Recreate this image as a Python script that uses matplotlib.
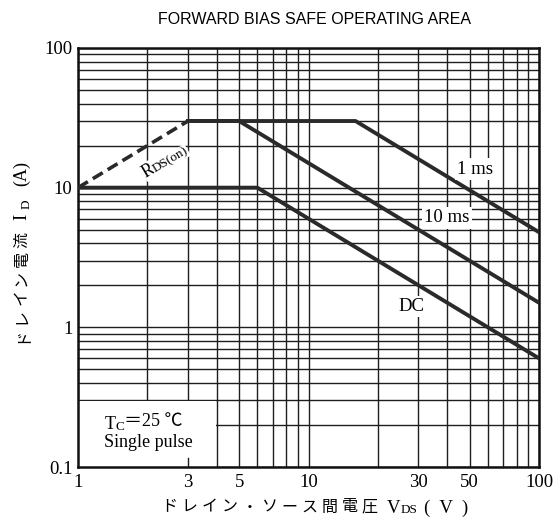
import matplotlib
matplotlib.use('Agg')
import matplotlib.pyplot as plt
from matplotlib.patches import Rectangle
from matplotlib.ticker import NullFormatter, LogLocator

# ---------------- data ----------------
title = "FORWARD BIAS SAFE OPERATING AREA"
x_ticks = [1, 3, 5, 10, 30, 50, 100]
x_ticklabels = ["1", "3", "5", "10", "30", "50", "100"]
y_ticks = [0.1, 1, 10, 100]
y_ticklabels = ["0.1", "1", "10", "100"]

rds_v = [1, 3]
rds_i = [10, 30]
ms1_v = [3, 16, 100]
ms1_i = [30, 30, 4.8]
ms10_v = [3, 5, 100]
ms10_i = [30, 30, 1.5]
dc_v = [1, 6, 100]
dc_i = [10, 10, 0.6]

curve_labels = ["1 ms", "10 ms", "DC"]
xlabel_jp = "ドレイン・ソース間電圧"
ylabel_jp = "ドレイン電流"

W, H = 560, 526
SERIF = ['Liberation Serif', 'Noto Sans CJK JP', 'DejaVu Sans']
CJK = ['Noto Sans CJK JP', 'DejaVu Sans']

fig = plt.figure(figsize=(W / 100, H / 100), dpi=100)
fig.patch.set_facecolor('white')
L, R, T, B = 78, 539, 48, 467
ax = fig.add_axes([L / W, 1 - B / H, (R - L) / W, (B - T) / H])
ax.set_xscale('log')
ax.set_yscale('log')
ax.set_xlim(1, 100)
ax.set_ylim(0.1, 100)

ax.set_axisbelow(True)
ax.xaxis.set_minor_locator(LogLocator(base=10, subs=range(2, 10)))
ax.yaxis.set_minor_locator(LogLocator(base=10, subs=range(2, 10)))
ax.grid(which='both', color='#1e1e1e', lw=1.0)
ax.set_xticks(x_ticks)
ax.set_xticklabels(x_ticklabels)
ax.set_yticks(y_ticks)
ax.set_yticklabels(y_ticklabels)
ax.xaxis.set_minor_formatter(NullFormatter())
ax.yaxis.set_minor_formatter(NullFormatter())
ax.tick_params(which='both', length=0)
ax.tick_params(axis='x', pad=5)
ax.tick_params(axis='y', pad=4)
for lab in ax.get_xticklabels() + ax.get_yticklabels():
    lab.set_fontfamily(SERIF)
    lab.set_fontsize(13.5)
for sp in ax.spines.values():
    sp.set_linewidth(1.8)
    sp.set_color('#111111')

# white box behind conditions text
ax.add_patch(Rectangle((1, 0.1), 2.95, 0.195, facecolor='white',
                       edgecolor='none', zorder=1))
ax.plot([3, 3], [0.1, 0.116], color='#1e1e1e', lw=1.0, zorder=1.5)

lc = '#2a2a2a'
ax.plot(rds_v, rds_i, color=lc, lw=2.6, ls=(0, (3.2, 1.6)), zorder=3,
        solid_capstyle='butt')
ax.plot(ms1_v, ms1_i, color=lc, lw=2.8, zorder=3)
ax.plot(ms10_v, ms10_i, color=lc, lw=2.8, zorder=3)
ax.plot(dc_v, dc_i, color=lc, lw=2.8, zorder=3)

bb = dict(facecolor='white', edgecolor='none', pad=1.5)
ax.text(52.8, 13.6, curve_labels[0], fontsize=13.5, family=SERIF,
        ha='center', va='center', bbox=bb, zorder=4)
ax.text(39.9, 6.07, curve_labels[1], fontsize=13.5, family=SERIF,
        ha='center', va='center', bbox=bb, zorder=4)
ax.text(27.9, 1.4, curve_labels[2], fontsize=13.5, family=SERIF,
        ha='center', va='center', bbox=bb, zorder=4)

# R_DS(on) label
ax.text(1.97, 11.8, "R", fontsize=13, family=SERIF, rotation=31,
        rotation_mode='anchor', ha='left', va='baseline', zorder=4,
        bbox=dict(facecolor='white', edgecolor='none', pad=0.5))
ax.text(2.16, 12.8, "DS(on)", fontsize=9.5, family=SERIF, rotation=31,
        rotation_mode='anchor', ha='left', va='baseline', zorder=4,
        bbox=dict(facecolor='white', edgecolor='none', pad=0.5))

# conditions text
t1 = ax.text(1.3, 0.188, "T", fontsize=13, family=SERIF, ha='left',
             va='baseline', zorder=4)
t2 = ax.annotate("C", xy=(1, 0), xycoords=t1, xytext=(0, 0),
                 textcoords='offset points', fontsize=9.5, family=SERIF,
                 ha='left', va='bottom', zorder=4)
ax.annotate("＝25 ℃", xy=(1, 0), xycoords=t2, xytext=(0, 2.2),
            textcoords='offset points', fontsize=13, family=SERIF,
            ha='left', va='bottom', zorder=4)
ax.text(1.3, 0.139, "Single pulse", fontsize=13, family=SERIF, ha='left',
        va='baseline', zorder=4)

# title
fig.text(315 / W, 1 - 20 / H, title, fontsize=11.5,
         family=['Liberation Sans', 'DejaVu Sans'], ha='center', va='center')

# x label (Japanese characters spaced out)
for i, ch in enumerate(xlabel_jp):
    fig.text((169.5 + i * 20.0) / W, 1 - 507 / H, ch, fontsize=11.5,
             family=CJK, ha='center', va='center')
fig.text(394 / W, 1 - 513 / H, "V", fontsize=13.5, family=SERIF,
         ha='center', va='baseline')
fig.text(409 / W, 1 - 513 / H, "DS", fontsize=9.5, family=SERIF,
         ha='center', va='baseline')
fig.text(446 / W, 1 - 513 / H, "(  V  )", fontsize=13.5, family=SERIF,
         ha='center', va='baseline')

# y label
for i, ch in enumerate(ylabel_jp):
    fig.text(22 / W, 1 - (335 - i * 19.0) / H, ch, fontsize=11.5,
             family=CJK, ha='center', va='center', rotation=90)
fig.text(22 / W, 1 - 217 / H, "I", fontsize=13.5, family=SERIF,
         ha='center', va='center', rotation=90)
fig.text(27 / W, 1 - 204 / H, "D", fontsize=9.5, family=SERIF,
         ha='center', va='center', rotation=90)
fig.text(22 / W, 1 - 174 / H, "(A)", fontsize=13, family=SERIF,
         ha='center', va='center', rotation=90)

fig.savefig('out.png', dpi=100, facecolor='white')
